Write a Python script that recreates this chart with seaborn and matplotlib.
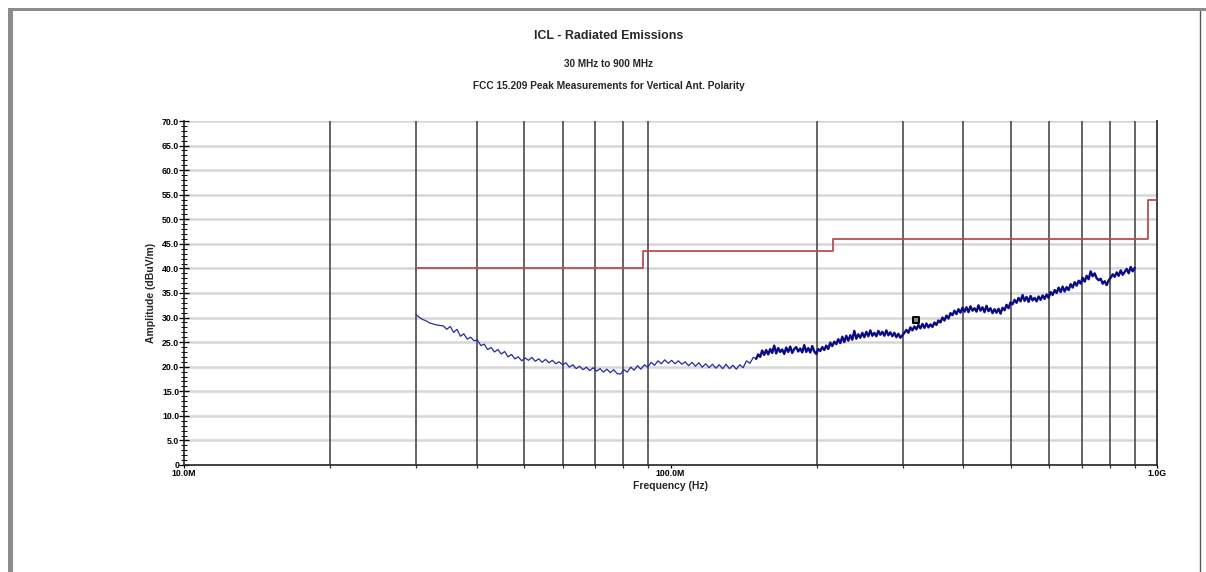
import numpy as np
import pandas as pd
import matplotlib
matplotlib.use("Agg")
import matplotlib.pyplot as plt
import seaborn as sns
from matplotlib.ticker import FixedLocator, FuncFormatter, MultipleLocator, NullFormatter
from matplotlib.patches import Rectangle
from matplotlib.lines import Line2D

# ---------------- data ----------------
# analyzer sweep definitions: start MHz, stop MHz, number of points
sweep_low_mhz = [30, 148, 100]
sweep_high_mhz = [150, 900, 190]

amp_low = [30.6, 30.0, 29.6, 29.3, 28.9, 28.7, 28.5, 28.4, 28.3, 27.6,
           28.2, 27.0, 27.6, 26.2, 26.7, 25.6, 26.0, 25.3, 25.4, 24.3,
           24.6, 23.5, 23.9, 23.0, 23.5, 22.6, 23.1, 22.0, 22.5, 21.6,
           22.0, 21.2, 21.8, 21.3, 21.9, 21.1, 21.6, 20.9, 21.5, 20.8,
           21.3, 20.6, 21.0, 20.4, 20.8, 19.9, 20.4, 19.6, 20.1, 19.4,
           19.9, 19.2, 19.8, 19.1, 19.6, 18.9, 19.5, 18.8, 19.4, 18.6,
           18.5, 19.4, 18.9, 19.9, 19.3, 20.2, 19.5, 20.4, 19.9, 20.9,
           20.3, 21.2, 20.6, 21.4, 20.7, 21.3, 20.6, 21.2, 20.5, 21.0,
           20.2, 20.9, 20.1, 20.8, 19.9, 20.6, 19.8, 20.5, 19.7, 20.4,
           19.6, 20.5, 19.6, 20.3, 19.5, 20.4, 19.8, 21.2, 20.7, 21.9]

amp_high = [21.6, 22.5, 22.0, 23.3, 22.4,
            23.4, 22.5, 23.6, 22.8, 24.3,
            22.7, 23.8, 23.0, 23.5, 22.6,
            23.9, 23.0, 24.1, 22.8, 23.6,
            24.0, 23.1, 23.7, 22.9, 24.4,
            23.0, 23.8, 22.9, 24.2, 23.1,
            22.6, 23.6, 23.2, 24.0, 23.4,
            24.3, 23.6, 24.9, 24.2, 25.1,
            24.6, 25.6, 24.8, 26.1, 25.0,
            26.3, 25.3, 26.4, 25.5, 27.3,
            25.7, 26.6, 25.9, 26.9, 26.0,
            27.1, 26.2, 27.4, 26.3, 26.9,
            26.2, 27.3, 26.5, 27.1, 26.3,
            27.4, 26.4, 27.0, 26.2, 26.9,
            26.0, 26.7, 25.9, 26.4, 26.9,
            27.5, 26.9, 28.0, 27.4, 28.2,
            27.6, 28.5, 27.8, 28.7, 27.9,
            28.8, 28.0, 28.6, 28.1, 29.0,
            28.5, 29.4, 29.0, 30.0, 29.4,
            30.4, 29.8, 30.9, 30.5, 31.4,
            30.7, 31.7, 31.0, 32.0, 31.2,
            32.1, 31.1, 32.3, 31.4, 31.9,
            31.2, 32.5, 31.4, 32.1, 31.1,
            32.4, 31.3, 31.9, 30.9, 31.7,
            31.0, 31.8, 30.8, 32.0, 31.5,
            32.6, 31.9, 33.1, 32.7, 33.6,
            33.0, 34.0, 33.3, 34.6, 33.4,
            34.2, 33.2, 34.4, 33.5, 34.0,
            33.3, 34.3, 33.6, 34.5, 33.8,
            34.7, 34.0, 35.2, 34.6, 35.6,
            35.0, 36.1, 35.2, 36.3, 35.3,
            36.2, 35.6, 36.8, 36.1, 37.2,
            36.5, 37.5, 36.9, 38.1, 37.3,
            38.5, 37.8, 39.4, 38.4, 39.0,
            38.0, 37.6, 37.9, 36.9, 37.4,
            36.6, 37.6, 38.1, 38.8, 38.3,
            39.2, 38.5, 39.6, 38.7, 39.3,
            39.9, 39.0, 40.3, 39.4, 40.1]

limit_freq_mhz = [30, 88, 88, 216, 216, 960, 960, 1000]
limit_dbuv = [40, 40, 43.5, 43.5, 46, 46, 54, 54]

marker_freq_mhz = [320]
marker_dbuv = [29.5]

y_major_ticks = [0, 5, 10, 15, 20, 25, 30, 35, 40, 45, 50, 55, 60, 65, 70]
x_major_ticks_hz = [1e7, 1e8, 1e9]
x_major_labels = ["10.0M", "100.0M", "1.0G"]
x_grid_hz = [2e7, 3e7, 4e7, 5e7, 6e7, 7e7, 8e7, 9e7,
             2e8, 3e8, 4e8, 5e8, 6e8, 7e8, 8e8, 9e8]

# ---------------- frames ----------------
freq_low = np.geomspace(sweep_low_mhz[0], sweep_low_mhz[1], sweep_low_mhz[2])
freq_high = np.geomspace(sweep_high_mhz[0], sweep_high_mhz[1], sweep_high_mhz[2])
trace_low = pd.DataFrame({"freq_hz": np.append(freq_low, freq_high[0]) * 1e6,
                          "amp": amp_low + [amp_high[0]]})
trace_high = pd.DataFrame({"freq_hz": freq_high * 1e6, "amp": amp_high})
limit = pd.DataFrame({"freq_hz": np.array(limit_freq_mhz) * 1e6, "amp": limit_dbuv})
marker = pd.DataFrame({"freq_hz": np.array(marker_freq_mhz) * 1e6, "amp": marker_dbuv})

sns.set_style("white")
plt.rcParams["font.family"] = ["Liberation Sans", "DejaVu Sans"]
plt.rcParams["font.weight"] = "bold"

W, H = 1206, 572
fig = plt.figure(figsize=(W / 100, H / 100), dpi=100)
fig.patch.set_facecolor("white")
ax = fig.add_axes([184 / W, (H - 465) / H, (1157 - 184) / W, (465 - 121) / H])

ax.set_xscale("log")
ax.set_xlim(1e7, 1e9)
ax.set_ylim(0, 70)

# grid lines (horizontal light, vertical dark on top of them)
for yv in y_major_ticks[1:]:
    ax.axhline(yv, color="#d6d6d6", lw=1.8, zorder=0.5)
for xv in x_grid_hz:
    ax.axvline(xv, color="#4a4a4a", lw=1.2, zorder=1.5)

sns.lineplot(data=limit, x="freq_hz", y="amp", sort=False, estimator=None,
             color="#b5504f", lw=1.3, ax=ax, zorder=3)
sns.lineplot(data=trace_low, x="freq_hz", y="amp", sort=False, estimator=None,
             color="#2a2a9c", lw=0.9, ax=ax, zorder=4)
sns.lineplot(data=trace_high, x="freq_hz", y="amp", sort=False, estimator=None,
             color="#0b0b88", lw=1.7, ax=ax, zorder=4)
sns.scatterplot(data=marker, x="freq_hz", y="amp", marker="s", s=18,
                color="#888888", edgecolor="black", linewidth=1.4, ax=ax, zorder=5)

ax.yaxis.set_major_locator(FixedLocator(y_major_ticks))
ax.yaxis.set_minor_locator(MultipleLocator(1))
ax.yaxis.set_major_formatter(FuncFormatter(lambda v, p: "0" if v == 0 else f"{v:.1f}"))
ax.xaxis.set_major_locator(FixedLocator(x_major_ticks_hz))
ax.xaxis.set_major_formatter(FuncFormatter(
    lambda v, p: x_major_labels[x_major_ticks_hz.index(v)] if v in x_major_ticks_hz else ""))
ax.xaxis.set_minor_locator(FixedLocator(x_grid_hz))
ax.xaxis.set_minor_formatter(NullFormatter())
ax.grid(False)

ax.tick_params(axis="y", which="major", left=True, direction="inout", length=7, width=0.9,
               labelsize=6.3, pad=0, colors="black")
ax.tick_params(axis="y", which="minor", left=True, direction="inout", length=4, width=0.7,
               colors="black")
ax.tick_params(axis="x", which="major", bottom=True, direction="out", length=2.5, width=0.9,
               labelsize=6.3, pad=0.5, colors="black")
ax.tick_params(axis="x", which="minor", bottom=True, direction="out", length=2.5, width=0.9,
               colors="#333333")
for lab in ax.get_xticklabels() + ax.get_yticklabels():
    lab.set_fontweight("bold")

for s in ["left", "bottom"]:
    ax.spines[s].set_color("#222222")
    ax.spines[s].set_linewidth(1.2)
ax.spines["right"].set_color("#333333")
ax.spines["right"].set_linewidth(1.3)
ax.spines["top"].set_visible(False)

ax.set_xlabel("Frequency (Hz)", fontsize=7.5, fontweight="bold", labelpad=2)
ax.set_ylabel("Amplitude (dBuV/m)", fontsize=7.5, fontweight="bold", labelpad=4)

# titles
fig.text(609 / W, 1 - 36 / H, "ICL - Radiated Emissions", ha="center", va="center",
         fontsize=8.9, fontweight="bold")
fig.text(609 / W, 1 - 64 / H, "30 MHz to 900 MHz", ha="center", va="center",
         fontsize=7.2, fontweight="bold")
fig.text(609 / W, 1 - 86 / H, "FCC 15.209 Peak Measurements for Vertical Ant. Polarity",
         ha="center", va="center", fontsize=7.3, fontweight="bold")

# page frame
fig.add_artist(Rectangle((8 / W, 0), 5 / W, (H - 8) / H, transform=fig.transFigure,
                         color="#8c8c8c", lw=0))
fig.add_artist(Rectangle((8 / W, (H - 11) / H), (W - 8) / W, 3 / H, transform=fig.transFigure,
                         color="#8c8c8c", lw=0))
fig.add_artist(Line2D([1200 / W, 1200 / W], [0, (H - 11) / H], transform=fig.transFigure,
                      color="#555555", lw=1.0))

fig.savefig("out.png", dpi=100, facecolor="white")
